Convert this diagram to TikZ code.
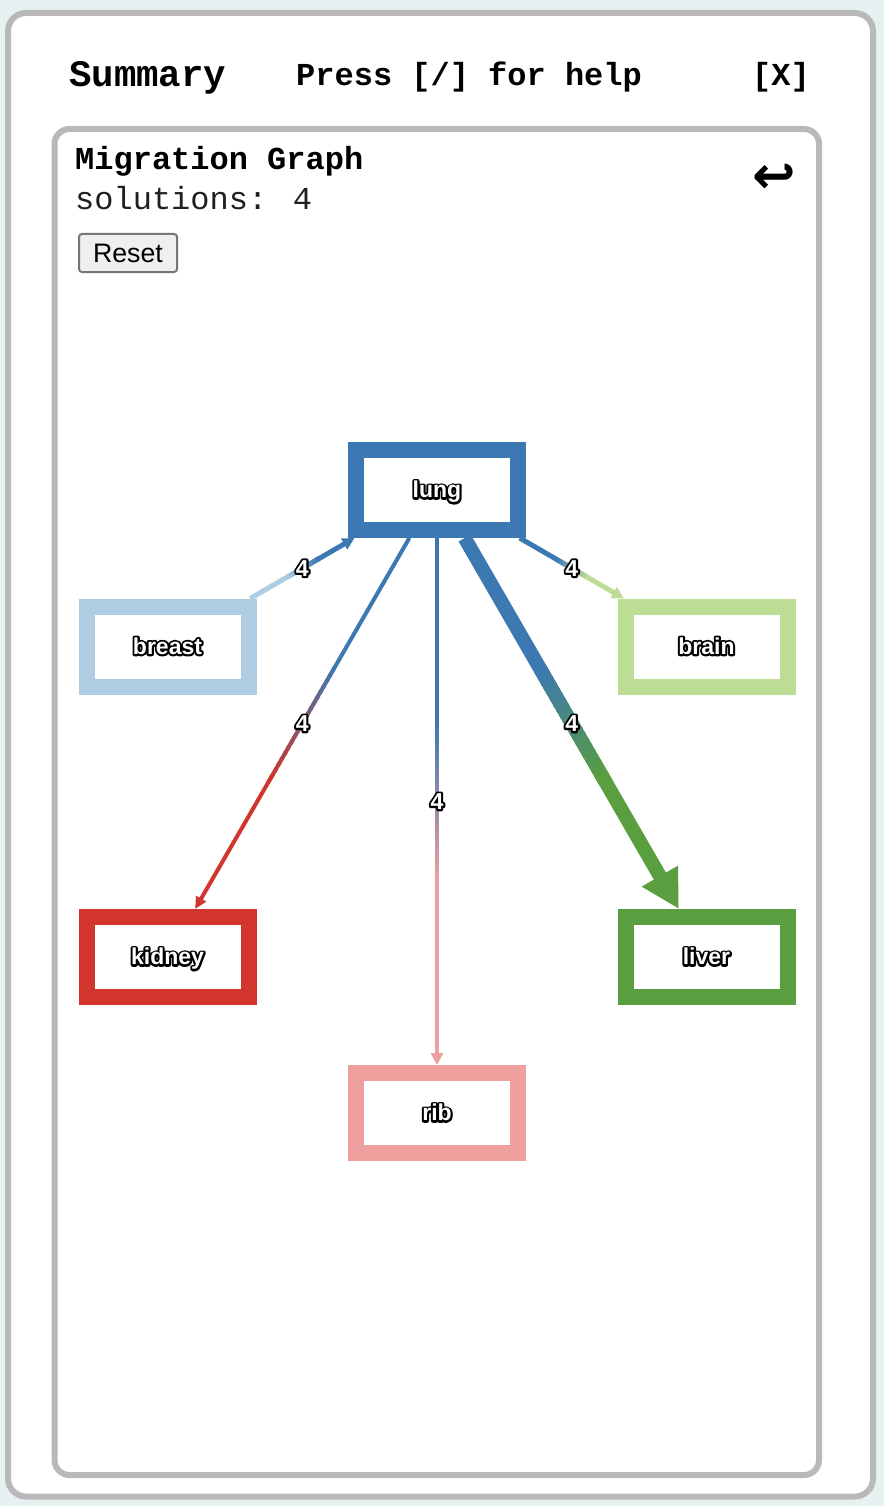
\documentclass[tikz,border=0pt]{standalone}
\usepackage{fontspec}
\setmainfont{Liberation Sans}
\newfontfamily\monof{Liberation Mono}
\newfontfamily\symf{DejaVu Sans}
\usetikzlibrary{arrows.meta,calc}
\definecolor{bgc}{HTML}{E8F1F2}
\definecolor{cardc}{HTML}{B9B9B9}
\definecolor{btnline}{HTML}{767676}
\definecolor{btnfill}{HTML}{EFEFEF}
\definecolor{lungc}{HTML}{3C78B1}
\definecolor{breastc}{HTML}{AECDE2}
\definecolor{brainc}{HTML}{BDDD95}
\definecolor{kidneyc}{HTML}{D2352D}
\definecolor{liverc}{HTML}{599E3F}
\definecolor{ribc}{HTML}{EDA09D}
% white text with a black halo painted behind it
\newcommand{\halo}[1]{\leavevmode\rlap{\textcolor{black}{\special{pdf:literal direct 1 Tr 4 w 1 j 1 J}#1\special{pdf:literal direct 0 Tr}}}\textcolor{white}{#1}}
% gradient edge: from, to, start colour, end colour, width, tip, label, label name
\newcommand{\gedge}[8]{%
  \path (#1) -- (#2) coordinate[pos=0] (#1-#2-s) coordinate[pos=1] (#1-#2-e);
  \draw[line width=#5, #3] (#1-#2-s) -- ($(#1-#2-s)!0.36!(#1-#2-e)$);
  \foreach \i in {0,...,19} {
    \pgfmathsetmacro\ta{0.35+0.3*\i/20}
    \pgfmathsetmacro\tb{0.35+0.3*(\i+1.6)/20}
    \pgfmathsetmacro\pc{100-100*(\i+0.5)/20}
    \draw[line width=#5, color={#3!\pc!#4}] ($(#1-#2-s)!\ta!(#1-#2-e)$) -- ($(#1-#2-s)!\tb!(#1-#2-e)$);
  }
  \draw[line width=#5, #4, -{#6}] ($(#1-#2-s)!0.64!(#1-#2-e)$) -- (#1-#2-e);
  \node[elbl] (#8) at ($(#1-#2-s)!0.5!(#1-#2-e)$) {\halo{#7}};
}
\begin{document}
\begin{tikzpicture}[x=1pt,y=-1pt,
  cardline/.style={draw=cardc, line width=6pt, fill=white},
  organ/.style={draw, line width=16pt, fill=white, minimum width=162pt, minimum height=80pt,
    inner sep=0pt, outer sep=8pt, text height=17pt, text depth=1.5pt,
    font=\bfseries\fontsize{23}{27}\selectfont},
  elbl/.style={inner sep=0pt, font=\bfseries\fontsize{23}{27}\selectfont},
  monobold/.style={anchor=base west, inner sep=0pt, font={\monof\bfseries\fontsize{32}{36}\selectfont}}
]
\useasboundingbox (0,0) rectangle (884,1506);
\fill[bgc] (0,0) rectangle (884,1506);
\path[cardline, rounded corners=18pt] (8,13) rectangle (873,1496.5);
\path[cardline, rounded corners=15pt] (54.5,129) rectangle (819,1475);

% header
\node[monobold, font={\monof\bfseries\fontsize{37.4}{40}\selectfont}] (summary) at (69,87) {Summary};
\node[monobold] (press) at (296,86) {Press [/] for help};
\node[monobold] (close) at (752,86) {[X]};

% panel header
\node[monobold] (title) at (75,170) {Migration Graph};
\node[anchor=base west, inner sep=0pt, text={black!88}, font={\monof\fontsize{32}{36}\selectfont}] (sol) at (75,210) {solutions: 4};
\node[font={\symf\bfseries\fontsize{52}{56}\selectfont}, inner sep=0pt] (ret) at (774,179) {↩};
\node[draw=btnline, fill=btnfill, line width=2pt, rounded corners=3pt, minimum width=98pt, minimum height=38pt,
  inner sep=0pt, font=\fontsize{26.7}{30}\selectfont] (reset) at (128,253) {Reset};

% organs
\node[organ, draw=lungc] (lung) at (437,490) {\halo{lung}};
\node[organ, draw=breastc] (breast) at (167.5,646.5) {\halo{breast}};
\node[organ, draw=brainc] (brain) at (706.5,646.5) {\halo{brain}};
\node[organ, draw=kidneyc] (kidney) at (167.5,957) {\halo{kidney}};
\node[organ, draw=liverc] (liver) at (706.5,957) {\halo{liver}};
\node[organ, draw=ribc] (rib) at (437,1113) {\halo{rib}};

% migrations
\gedge{breast}{lung}{breastc}{lungc}{5pt}{Triangle[length=12pt,width=12pt]}{4}{e1}
\gedge{lung}{brain}{lungc}{brainc}{5pt}{Triangle[length=12pt,width=12pt]}{4}{e2}
\gedge{lung}{kidney}{lungc}{kidneyc}{4pt}{Triangle[length=12pt,width=11pt]}{4}{e3}
\gedge{lung}{rib}{lungc}{ribc}{4pt}{Triangle[length=12pt,width=12pt]}{4}{e4}
\gedge{lung}{liver}{lungc}{liverc}{14pt}{Triangle[length=38pt,width=39pt]}{4}{e5}
\end{tikzpicture}
\end{document}
